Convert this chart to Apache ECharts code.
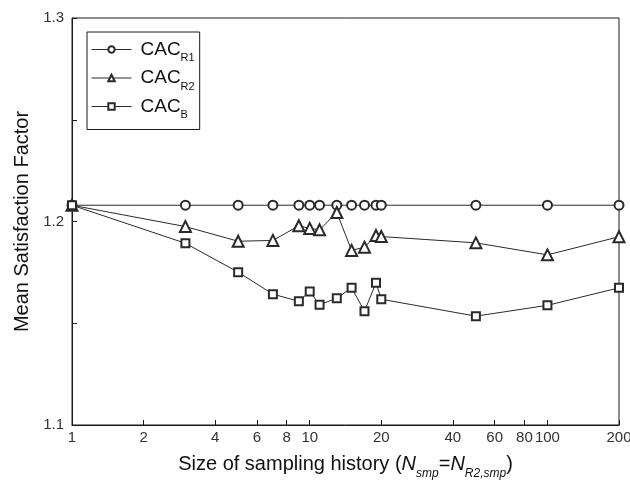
<!DOCTYPE html>
<html>
<head>
<meta charset="utf-8">
<script src="https://cdn.jsdelivr.net/npm/echarts@6/dist/echarts.min.js"></script>
<style>
	html, body { margin: 0; padding: 0; background: #fff; }
	#chart { width: 630px; height: 495px; }
</style>
</head>
<body>
<div id="chart"></div>
<script>
var sampleSizes = [1, 3, 5, 7, 9, 10, 11, 13, 15, 17, 19, 20, 50, 100, 200];
var cacR1 = [1.208, 1.208, 1.208, 1.208, 1.208, 1.208, 1.208, 1.208, 1.208, 1.208, 1.208, 1.208, 1.208, 1.208, 1.208];
var cacR2 = [1.208, 1.1975, 1.1903, 1.1907, 1.1979, 1.1966, 1.1959, 1.2044, 1.1858, 1.1874, 1.1931, 1.1926, 1.1895, 1.1836, 1.1925];
var cacB = [1.208, 1.1893, 1.1751, 1.1643, 1.1608, 1.1656, 1.1591, 1.1623, 1.1674, 1.1559, 1.1699, 1.1618, 1.1535, 1.1588, 1.1674];
var xTickValues = [1, 2, 4, 6, 8, 10, 20, 40, 60, 80, 100, 200];

var font = "'Liberation Sans', Arial, sans-serif";

function pairs(values) {
	var out = [];
	for (var i = 0; i < sampleSizes.length; i++) {
		out.push([sampleSizes[i], values[i]]);
	}
	return out;
}

function lineSeries(name, symbol, size, values) {
	return {
		name: name,
		type: "line",
		symbol: symbol,
		symbolSize: size,
		showAllSymbol: true,
		animation: false,
		lineStyle: { color: "#2a2a2a", width: 1 },
		itemStyle: { color: "#2a2a2a", borderWidth: 0.8 },
		data: pairs(values)
	};
}

var legendNames = {
	"CAC_R1": "{m|CAC}{s|R1}",
	"CAC_R2": "{m|CAC}{s|R2}",
	"CAC_B": "{m|CAC}{s|B}"
};

var chart = echarts.init(document.getElementById("chart"));
chart.setOption({
	textStyle: { fontFamily: font },
	grid: {
		left: 72, right: 11, top: 18, bottom: 70,
		outerBoundsMode: "none",
		show: true, borderColor: "#1a1a1a", borderWidth: 1
	},
	legend: {
		orient: "vertical",
		left: 87,
		top: 32,
		padding: [8, 5, 9, 4],
		itemGap: 5,
		itemWidth: 40,
		itemHeight: 8,
		borderColor: "#1a1a1a",
		borderWidth: 1,
		borderRadius: 0,
		itemStyle: { borderWidth: 0.8 },
		lineStyle: { width: 1 },
		data: ["CAC_R1", "CAC_R2", "CAC_B"],
		formatter: function(name) {
			return legendNames[name];
		},
		textStyle: {
			rich: {
				m: { fontSize: 19, fontFamily: font, color: "#111", lineHeight: 22, verticalAlign: "middle", padding: [0, 0, 0, 4] },
				s: { fontSize: 11, fontFamily: font, color: "#111", lineHeight: 28, verticalAlign: "bottom" }
			}
		}
	},
	xAxis: {
		type: "log",
		logBase: 10,
		min: 1,
		max: 200,
		name: "Size of sampling history ({i|N}{is|smp}={i|N}{is|R2,smp})",
		nameLocation: "middle",
		nameGap: 23,
		nameTextStyle: {
			fontSize: 20,
			color: "#111",
			fontFamily: font,
			rich: {
				i: { fontSize: 20, fontStyle: "italic", fontFamily: font, color: "#111", lineHeight: 26, verticalAlign: "middle" },
				is: { fontSize: 12, fontStyle: "italic", fontFamily: font, color: "#111", lineHeight: 32, verticalAlign: "bottom" }
			}
		},
		axisLine: { lineStyle: { color: "#1a1a1a", width: 1 } },
		axisTick: { inside: true, length: 5, customValues: xTickValues, lineStyle: { color: "#1a1a1a" } },
		axisLabel: { customValues: xTickValues, fontSize: 15, color: "#333", margin: 5 },
		splitLine: { show: false },
		minorTick: { show: false }
	},
	yAxis: {
		type: "value",
		min: 1.1,
		max: 1.3,
		interval: 0.05,
		name: "Mean Satisfaction Factor",
		nameLocation: "middle",
		nameGap: 31,
		nameTextStyle: { fontSize: 20, color: "#111", fontFamily: font },
		axisLine: { show: true, lineStyle: { color: "#1a1a1a", width: 1 } },
		axisTick: { inside: true, length: 5, lineStyle: { color: "#1a1a1a" } },
		axisLabel: {
			fontSize: 15, color: "#333", margin: 8,
			formatter: function(v) {
				return Math.abs(v * 10 - Math.round(v * 10)) < 1e-6 ? v.toFixed(1) : "";
			}
		},
		splitLine: { show: false }
	},
	series: [
		lineSeries("CAC_R1", "emptyCircle", 9, cacR1),
		lineSeries("CAC_R2", "emptyTriangle", 11, cacR2),
		lineSeries("CAC_B", "emptyRect", 8, cacB)
	]
});
</script>
</body>
</html>
